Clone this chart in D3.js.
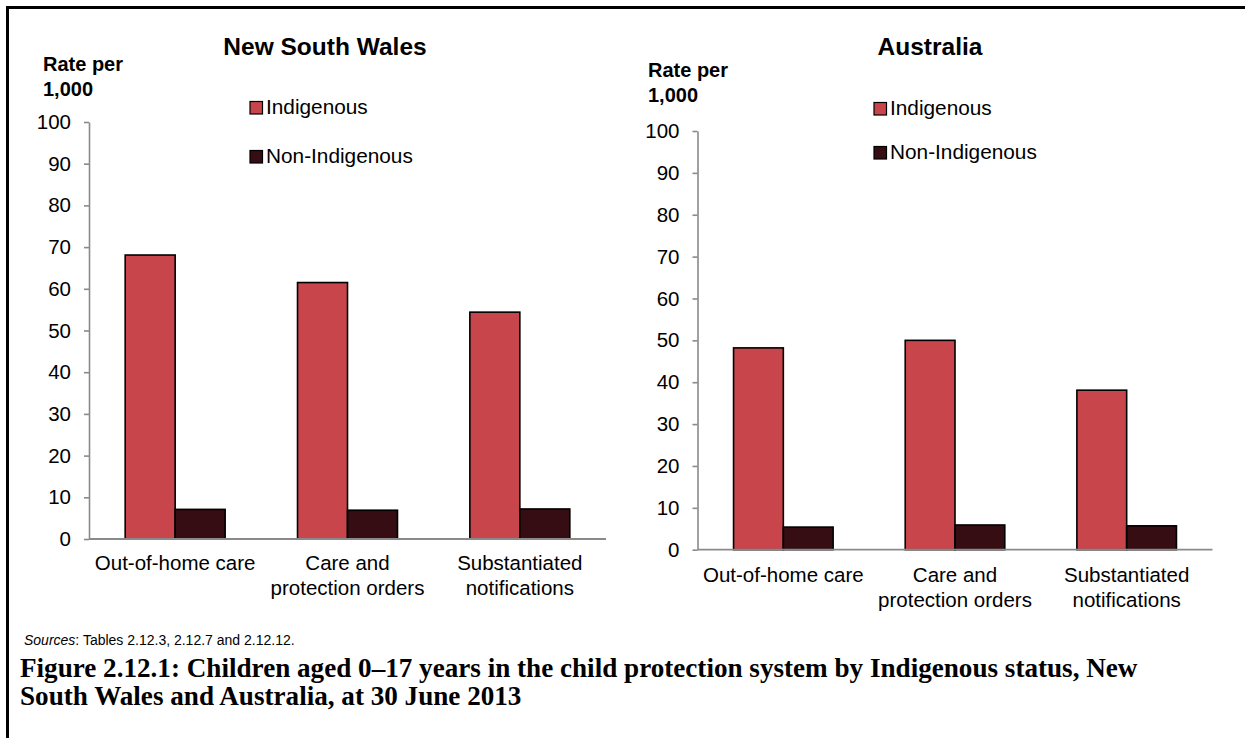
<!DOCTYPE html>
<html><head><meta charset="utf-8">
<script src="https://cdn.jsdelivr.net/npm/d3@7"></script>
<style>body{margin:0;background:#fff}svg{display:block}</style>
</head><body><svg id="c" width="1245" height="738"></svg>
<script>
// ---- data ----
const categories = ["Out-of-home care", "Care and\nprotection orders", "Substantiated\nnotifications"];
const seriesNames = ["Indigenous", "Non-Indigenous"];
const nswIndigenous = [68.1, 61.5, 54.4];
const nswNonIndigenous = [7.1, 6.9, 7.2];
const ausIndigenous = [48.2, 50.0, 38.1];
const ausNonIndigenous = [5.4, 5.9, 5.7];
const yTicks = [0, 10, 20, 30, 40, 50, 60, 70, 80, 90, 100];
const panelTitles = ["New South Wales", "Australia"];
const yAxisTitle = ["Rate per", "1,000"];
const sourcesText = "Tables 2.12.3, 2.12.7 and 2.12.12.";
const captionLines = ["Figure 2.12.1: Children aged 0\u201317 years in the child protection system by Indigenous status, New",
                      "South Wales and Australia, at 30 June 2013"];

// ---- style / layout ----
const colors = ["#C8464B", "#350D13"];
const SANS = "'Liberation Sans', Arial, sans-serif";
const SERIF = "'Liberation Serif', 'Times New Roman', serif";
const svg = d3.select("#c");

// frame
svg.append("path").attr("d", "M7.5,738V7.5H1250").attr("fill", "none").attr("stroke", "#000").attr("stroke-width", 3);

const panels = [
  {title: panelTitles[0], data: [nswIndigenous, nswNonIndigenous], x0: 89, x1: 606, y0: 539, y1: 122,
   titleX: 325, titleY: 55, rateX: 43, rateY: 71, legX: 250, legY: [114, 163], catY: 570},
  {title: panelTitles[1], data: [ausIndigenous, ausNonIndigenous], x0: 697.5, x1: 1212.5, y0: 549.7, y1: 131,
   titleX: 930, titleY: 55, rateX: 648, rateY: 77, legX: 874, legY: [115, 159], catY: 582}
];

panels.forEach(p => {
  const g = svg.append("g");
  const x = d3.scaleBand().domain(categories).range([p.x0, p.x1]).paddingInner(0.42).paddingOuter(0.21);
  const xs = d3.scaleBand().domain(seriesNames).range([0, x.bandwidth()]);
  const y = d3.scaleLinear().domain([0, 100]).range([p.y0, p.y1]);

  // bars
  seriesNames.forEach((s, si) => {
    g.append("g").selectAll("rect").data(p.data[si]).join("rect")
      .attr("x", (d, i) => x(categories[i]) + xs(s))
      .attr("y", d => y(d))
      .attr("width", xs.bandwidth())
      .attr("height", d => y(0) - y(d))
      .attr("fill", colors[si])
      .attr("stroke", "#000").attr("stroke-width", 1.6);
  });

  // y axis
  const ya = g.append("g").attr("transform", `translate(${p.x0},0)`)
    .call(d3.axisLeft(y).tickValues(yTicks).tickSize(5).tickSizeOuter(0).tickPadding(13));
  ya.select(".domain").attr("stroke", "#8a8a8a").attr("stroke-width", 1.6);
  ya.selectAll(".tick line").attr("stroke", "#8a8a8a").attr("stroke-width", 1.6);
  ya.selectAll(".tick text").attr("font-family", SANS).attr("font-size", 20.5).attr("fill", "#000");

  // x axis line
  g.append("line").attr("x1", p.x0).attr("x2", p.x1).attr("y1", y(0)).attr("y2", y(0))
    .attr("stroke", "#8a8a8a").attr("stroke-width", 1.8);

  // category labels
  categories.forEach(c => {
    const t = g.append("text").attr("text-anchor", "middle").attr("font-family", SANS).attr("font-size", 20.5)
      .attr("x", x(c) + x.bandwidth() / 2).attr("y", p.catY);
    c.split("\n").forEach((line, li) => {
      t.append("tspan").attr("x", x(c) + x.bandwidth() / 2).attr("dy", li ? 25 : 0).text(line);
    });
  });

  // title
  g.append("text").attr("x", p.titleX).attr("y", p.titleY).attr("text-anchor", "middle")
    .attr("font-family", SANS).attr("font-weight", "bold").attr("font-size", 24.5).text(p.title);

  // y axis title
  yAxisTitle.forEach((t, i) => {
    g.append("text").attr("x", p.rateX).attr("y", p.rateY + i * 25)
      .attr("font-family", SANS).attr("font-weight", "bold").attr("font-size", 20).text(t);
  });

  // legend
  seriesNames.forEach((s, si) => {
    g.append("rect").attr("x", p.legX).attr("y", p.legY[si] - 12.5).attr("width", 12.5).attr("height", 12.5)
      .attr("fill", colors[si]).attr("stroke", "#000").attr("stroke-width", 1.2);
    g.append("text").attr("x", p.legX + 16).attr("y", p.legY[si])
      .attr("font-family", SANS).attr("font-size", 20.8).text(s);
  });
});

// sources
const src = svg.append("text").attr("x", 24).attr("y", 645).attr("font-family", SANS).attr("font-size", 14);
src.append("tspan").attr("font-style", "italic").text("Sources");
src.append("tspan").text(": " + sourcesText);

// caption
const capWidths = [1118, null];
let capSize = 22;
const c0 = svg.append("text").attr("x", 20).attr("y", 677).attr("font-family", SERIF).attr("font-weight", "bold")
  .attr("font-size", capSize).text(captionLines[0]);
const len0 = c0.node().getComputedTextLength();
capSize = capSize * capWidths[0] / len0;
c0.attr("font-size", capSize);
svg.append("text").attr("x", 20).attr("y", 705).attr("font-family", SERIF).attr("font-weight", "bold")
  .attr("font-size", capSize).text(captionLines[1]);
</script>
</body></html>
